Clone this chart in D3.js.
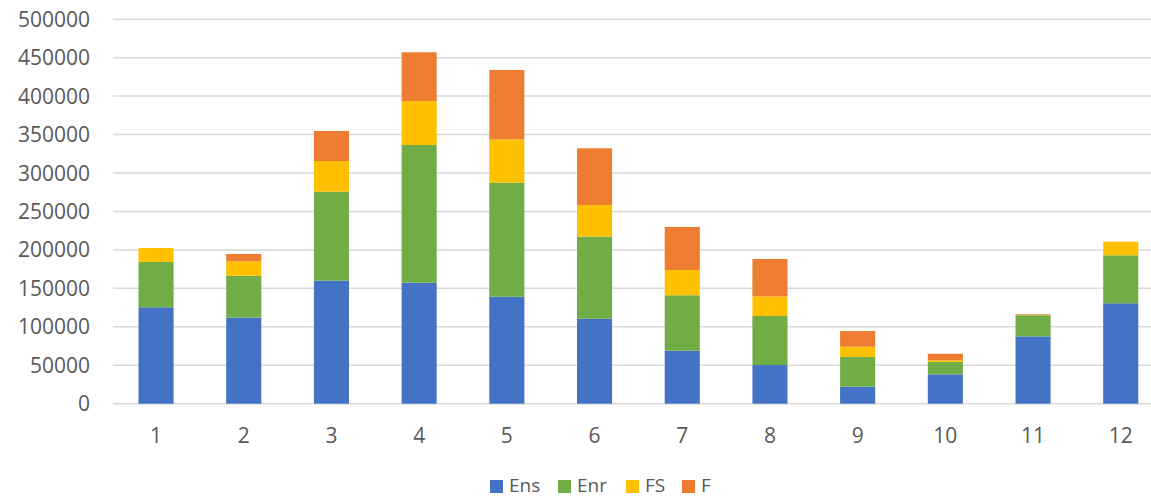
<!DOCTYPE html>
<html>
<head>
<meta charset="utf-8">
<script src="https://cdn.jsdelivr.net/npm/d3@7/dist/d3.min.js"></script>
<style>
  html, body { margin: 0; padding: 0; background: #fff; overflow: hidden; }
  svg { display: block; }
  text { font-family: "Open Sans", Calibri, Carlito, Lato, sans-serif; fill: #595959; }
</style>
</head>
<body>
<svg id="chart" width="1151" height="499"></svg>
<script>
// Monthly totals, stacked by series
const months = ["1", "2", "3", "4", "5", "6", "7", "8", "9", "10", "11", "12"];
const seriesNames = ["Ens", "Enr", "FS", "F"];
const seriesColors = ["#4472C4", "#70AD47", "#FFC000", "#ED7D31"];

const ens = [125400, 111800, 160000, 157300, 139100, 110500, 68900, 50300, 22100, 38200, 87600, 130600];
const enr = [58900, 54600, 115700, 179100, 148300, 106700, 72100, 63700, 38600, 16000, 27400, 62400];
const fs  = [18200, 18800, 39900, 57200, 56400, 41200, 32900, 25600, 13400, 2200, 400, 17700];
const f   = [0, 9500, 39000, 63400, 90200, 73700, 55900, 48600, 20400, 8600, 800, 0];

const yTicks = [0, 50000, 100000, 150000, 200000, 250000, 300000, 350000, 400000, 450000, 500000];

const rows = months.map((m, i) => ({ month: m, Ens: ens[i], Enr: enr[i], FS: fs[i], F: f[i] }));

const width = 1151;
const svg = d3.select("#chart");
// The plot area runs a little past the right edge of the canvas
const plot = { left: 112.2, right: 1164.6, top: 19.2, bottom: 403.7 };

const x = d3.scaleBand().domain(months).range([plot.left, plot.right]).paddingInner(0.6).paddingOuter(0.3);
const y = d3.scaleLinear().domain([0, 500000]).range([plot.bottom, plot.top]);

// Horizontal gridlines
svg.append("g")
  .selectAll("line")
  .data(yTicks)
  .join("line")
  .attr("x1", 113)
  .attr("x2", width)
  .attr("y1", d => y(d))
  .attr("y2", d => y(d))
  .attr("stroke", "#d9d9d9")
  .attr("stroke-width", 1.5);

// Y tick labels
svg.append("g")
  .selectAll("text")
  .data(yTicks)
  .join("text")
  .attr("x", 90)
  .attr("y", d => y(d))
  .attr("dy", "0.36em")
  .attr("text-anchor", "end")
  .attr("font-size", 21)
  .text(d => d);

// Stacked bars
const stack = d3.stack().keys(seriesNames)(rows);
const color = d3.scaleOrdinal().domain(seriesNames).range(seriesColors);

svg.append("g")
  .selectAll("g")
  .data(stack)
  .join("g")
  .attr("fill", d => color(d.key))
  .selectAll("rect")
  .data(d => d)
  .join("rect")
  .attr("x", d => x(d.data.month))
  .attr("width", x.bandwidth())
  .attr("y", d => y(d[1]))
  .attr("height", d => Math.max(0, y(d[0]) - y(d[1])));

// X labels
svg.append("g")
  .selectAll("text")
  .data(months)
  .join("text")
  .attr("x", d => x(d) + x.bandwidth() / 2)
  .attr("y", 435)
  .attr("dy", "0.36em")
  .attr("text-anchor", "middle")
  .attr("font-size", 21)
  .text(d => d);

// Legend
const legendX = [490, 558, 626, 682];
const legend = svg.append("g")
  .selectAll("g")
  .data(seriesNames)
  .join("g")
  .attr("transform", (d, i) => `translate(${legendX[i]},480)`);
legend.append("rect")
  .attr("width", 13)
  .attr("height", 13)
  .attr("fill", d => color(d));
legend.append("text")
  .attr("x", 19)
  .attr("y", 5)
  .attr("dy", "0.36em")
  .attr("font-size", 19)
  .text(d => d);
</script>
</body>
</html>
